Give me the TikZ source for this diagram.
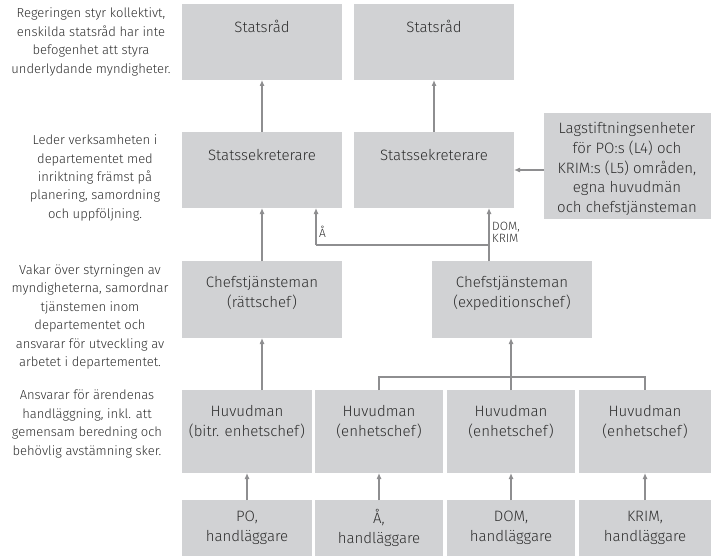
\documentclass[tikz,border=0pt]{standalone}
\usepackage{fontspec}
\setmainfont{Fira Sans}[UprightFont=* Light]
\usetikzlibrary{arrows.meta}
\definecolor{boxgray}{HTML}{D1D2D4}
\definecolor{linegray}{HTML}{8E8E90}
\definecolor{txtgray}{HTML}{2E2E2E}
\tikzset{
  box/.style={fill=boxgray, draw=none, inner sep=0pt, outer sep=0pt, anchor=north west},
  boxtxt/.style={text=txtgray, align=center, inner sep=0pt, font=\fontsize{15}{20}\selectfont},
  sidetxt/.style={text=txtgray, align=center, inner sep=0pt, font=\fontsize{13}{18.4}\selectfont},
  smalltxt/.style={text=txtgray, align=left, inner sep=0pt, font=\fontsize{12}{12}\selectfont},
  conn/.style={draw=linegray, line width=1.1pt, -{Latex[length=6pt,width=5pt]}},
  plain/.style={draw=linegray, line width=1.1pt}
}
\begin{document}
\begin{tikzpicture}[x=1pt,y=-1pt]
\useasboundingbox (0,0) rectangle (711,556);
% row 1
\node[box, minimum width=160pt, minimum height=76pt] (sr1) at (182,4) {};
\node[box, minimum width=160pt, minimum height=76pt] (sr2) at (354,4) {};
% row 2
\node[box, minimum width=160pt, minimum height=76pt] (ss1) at (182,132) {};
\node[box, minimum width=160pt, minimum height=76pt] (ss2) at (354,132) {};
\node[box, minimum width=167pt, minimum height=106pt] (lag) at (544,113) {};
% row 3
\node[box, minimum width=160pt, minimum height=77pt] (rc) at (182,261) {};
\node[box, minimum width=160pt, minimum height=77pt] (ec) at (432,261) {};
% row 4
\node[box, minimum width=130pt, minimum height=83pt] (hm1) at (182,390) {};
\node[box, minimum width=128pt, minimum height=83pt] (hm2) at (315,390) {};
\node[box, minimum width=128pt, minimum height=83pt] (hm3) at (447,390) {};
\node[box, minimum width=132pt, minimum height=83pt] (hm4) at (579,390) {};
% row 5
\node[box, minimum width=130pt, minimum height=56pt] (hl1) at (182,500) {};
\node[box, minimum width=128pt, minimum height=56pt] (hl2) at (315,500) {};
\node[box, minimum width=128pt, minimum height=56pt] (hl3) at (447,500) {};
\node[box, minimum width=132pt, minimum height=56pt] (hl4) at (579,500) {};

% box texts
\node[boxtxt] (tsr1) at (262,26) {Statsråd};
\node[boxtxt] (tsr2) at (434,26) {Statsråd};
\node[boxtxt] (tss1) at (262,155) {Statssekreterare};
\node[boxtxt] (tss2) at (434,155) {Statssekreterare};
\node[boxtxt, font=\fontsize{15}{19.7}\selectfont] (tlag) at (627,169) {Lagstiftningsenheter\\för PO:s (L4) och\\KRIM:s (L5) områden,\\egna huvudmän\\och chefstjänsteman};
\node[boxtxt] (trc) at (262,293) {Chefstjänsteman\\(rättschef)};
\node[boxtxt] (tec) at (512,293) {Chefstjänsteman\\(expeditionschef)};
\node[boxtxt] (thm1) at (247,422) {Huvudman\\(bitr. enhetschef)};
\node[boxtxt] (thm2) at (379,422) {Huvudman\\(enhetschef)};
\node[boxtxt] (thm3) at (511,422) {Huvudman\\(enhetschef)};
\node[boxtxt] (thm4) at (645,422) {Huvudman\\(enhetschef)};
\node[boxtxt] (thl1) at (247,528) {PO,\\handläggare};
\node[boxtxt] (thl2) at (379,528) {Å,\\handläggare};
\node[boxtxt] (thl3) at (511,528) {DOM,\\handläggare};
\node[boxtxt] (thl4) at (645,528) {KRIM,\\handläggare};

% side texts
\node[sidetxt] (s1) at (91,42) {Regeringen styr kollektivt,\\enskilda statsråd har inte\\befogenhet att styra\\underlydande myndigheter.};
\node[sidetxt] (s2) at (95,178) {Leder verksamheten i\\departementet med\\inriktning främst på\\planering, samordning\\och uppföljning.};
\node[sidetxt] (s3) at (90,317) {Vakar över styrningen av\\myndigheterna, samordnar\\tjänstemen inom\\departementet och\\ansvarar för utveckling av\\arbetet i departementet.};
\node[sidetxt] (s4) at (87,424) {Ansvarar för ärendenas\\handläggning, inkl. att\\gemensam beredning och\\behövlig avstämning sker.};

% connectors
\draw[conn] (ss1.north) -- (sr1.south);
\draw[conn] (ss2.north) -- (sr2.south);
\draw[conn] (rc.north) -- (ss1.south);
\draw[conn] (lag.west |- ss2.east) -- (ss2.east);

\coordinate (split) at (489,245);
\coordinate (aturn) at (316,245);
\draw[conn] (split |- ec.north) -- (split |- ss2.south);
\draw[plain] (split) -- (aturn);
\draw[conn] (aturn) -- (aturn |- ss1.south);
\node[smalltxt, anchor=west] (la) at (319,232) {Å};
\node[smalltxt, anchor=west] (ldk) at (492,232) {DOM,\\KRIM};

\draw[conn] (rc.south |- hm1.north) -- (rc.south);
\coordinate (br) at (379,377);
\draw[plain] (hm2.north) -- (hm2.north |- br) -- (hm4.north |- br) -- (hm4.north);
\draw[conn] (hm3.north) -- (hm3.north |- ec.south);

\draw[conn] (hl1.north) -- (hm1.south);
\draw[conn] (hl2.north) -- (hm2.south);
\draw[conn] (hl3.north) -- (hm3.south);
\draw[conn] (hl4.north) -- (hm4.south);
\end{tikzpicture}
\end{document}
